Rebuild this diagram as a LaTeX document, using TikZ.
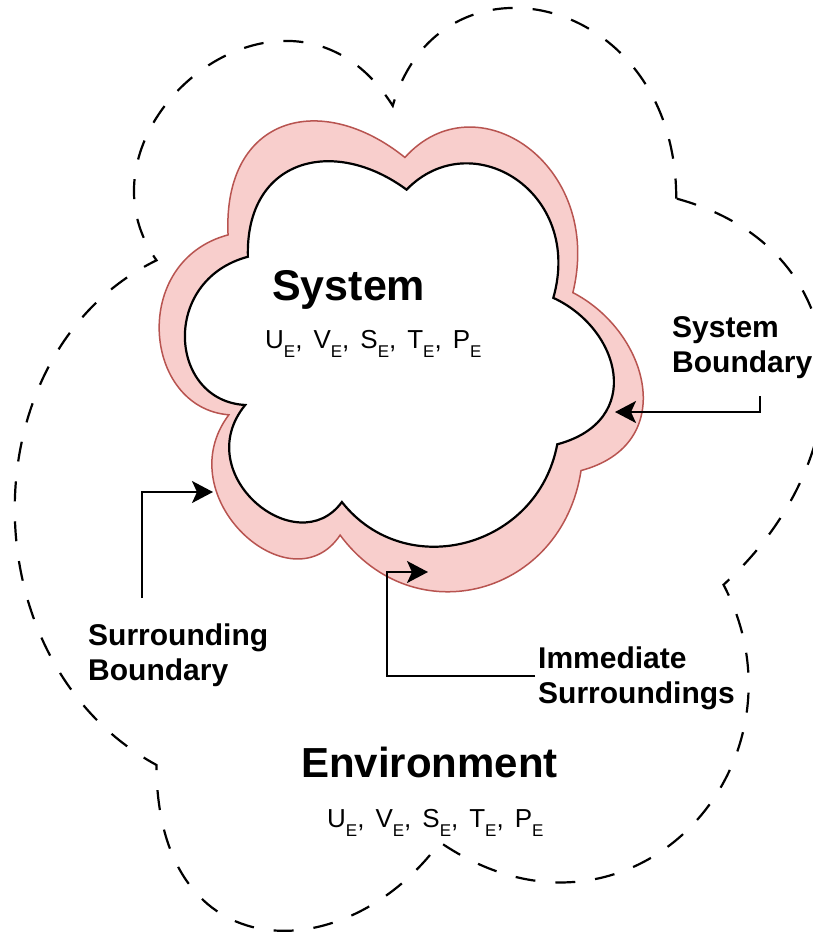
\documentclass[tikz,border=0pt]{standalone}
\usepackage{fontspec}
\setmainfont{Liberation Sans}
\usetikzlibrary{arrows.meta}
\definecolor{pinkfill}{HTML}{F8CECC}
\definecolor{pinkline}{HTML}{B85450}
% draw.io cloud outline, centred on the origin; #1 = width, #2 = height
\newcommand\cloudpath[2]{%
 (-0.25*#1,-0.25*#2) .. controls (-0.45*#1,-0.25*#2) and (-0.5*#1,0) .. (-0.34*#1,0.05*#2)
 .. controls (-0.5*#1,0.16*#2) and (-0.32*#1,0.4*#2) .. (-0.19*#1,0.3*#2)
 .. controls (-0.1*#1,0.5*#2) and (0.2*#1,0.5*#2) .. (0.3*#1,0.3*#2)
 .. controls (0.5*#1,0.3*#2) and (0.5*#1,0.1*#2) .. (0.375*#1,0)
 .. controls (0.5*#1,-0.2*#2) and (0.3*#1,-0.4*#2) .. (0.125*#1,-0.3*#2)
 .. controls (0,-0.45*#2) and (-0.2*#1,-0.45*#2) .. (-0.25*#1,-0.25*#2) -- cycle}
\newcommand\subE{\raisebox{-9pt}{\fontsize{17}{17}\selectfont E}}
\newcommand\varsep{,\hspace{11pt}}
\tikzset{
 lbl/.style={font=\fontsize{30}{35}\selectfont\bfseries, inner sep=0pt, anchor=base west},
 titletext/.style={font=\fontsize{43}{50}\selectfont\bfseries, inner sep=0pt, anchor=base west},
 vars/.style={font=\fontsize{26}{30}\selectfont, inner sep=0pt, anchor=base west},
 ptr/.style={line width=2pt, -{Stealth[length=21pt,width=22pt,inset=5pt]}},
 envline/.style={line width=2.2pt, dash pattern=on 20pt off 20pt},
 surr/.style={fill=pinkfill, draw=pinkline, line width=1.5pt},
 sysline/.style={fill=white, draw=black, line width=2.2pt},
}
\begin{document}
\begin{tikzpicture}[x=1pt,y=-1pt]
\useasboundingbox (0,0) rectangle (813,932);
\clip (0,0) rectangle (813,932);
\fill[white] (0,0) rectangle (813,932);
% environment boundary
\begin{scope}[shift={(440,456)},rotate=-90]
 \draw[envline] \cloudpath{1030}{945};
\end{scope}
% immediate surroundings
\begin{scope}[shift={(388.5,342)},rotate=15]
 \draw[surr] \cloudpath{509}{580};
 \draw[sysline] \cloudpath{455}{475};
\end{scope}
% texts
\node[titletext] (sys) at (272,300) {System};
\node[vars] (sysvars) at (265,348) {U\subE\varsep V\subE\varsep S\subE\varsep T\subE\varsep P\subE};
\node[lbl] (sb1) at (672,337) {System};
\node[lbl] (sb2) at (672,372) {Boundary};
\node[lbl] (srb1) at (88,645) {Surrounding};
\node[lbl] (srb2) at (88,680) {Boundary};
\node[lbl] (im1) at (538,668) {Immediate};
\node[lbl] (im2) at (538,703) {Surroundings};
\node[titletext, font=\fontsize{42}{50}\selectfont\bfseries] (env) at (301,777) {Environment};
\node[vars] (envvars) at (327,827) {U\subE\varsep V\subE\varsep S\subE\varsep T\subE\varsep P\subE};
% pointers
\coordinate (sbStart) at (760,396);
\coordinate (sbTip) at (615,412);
\draw[ptr] (sbStart) |- (sbTip);
\coordinate (srStart) at (142,598);
\coordinate (srTip) at (213,492);
\draw[ptr] (srStart) |- (srTip);
\coordinate (imStart) at (535,676);
\coordinate (imBend) at (387,572);
\coordinate (imTip) at (428,572);
\draw[ptr] (imStart) -| (imBend) -- (imTip);
\end{tikzpicture}
\end{document}
